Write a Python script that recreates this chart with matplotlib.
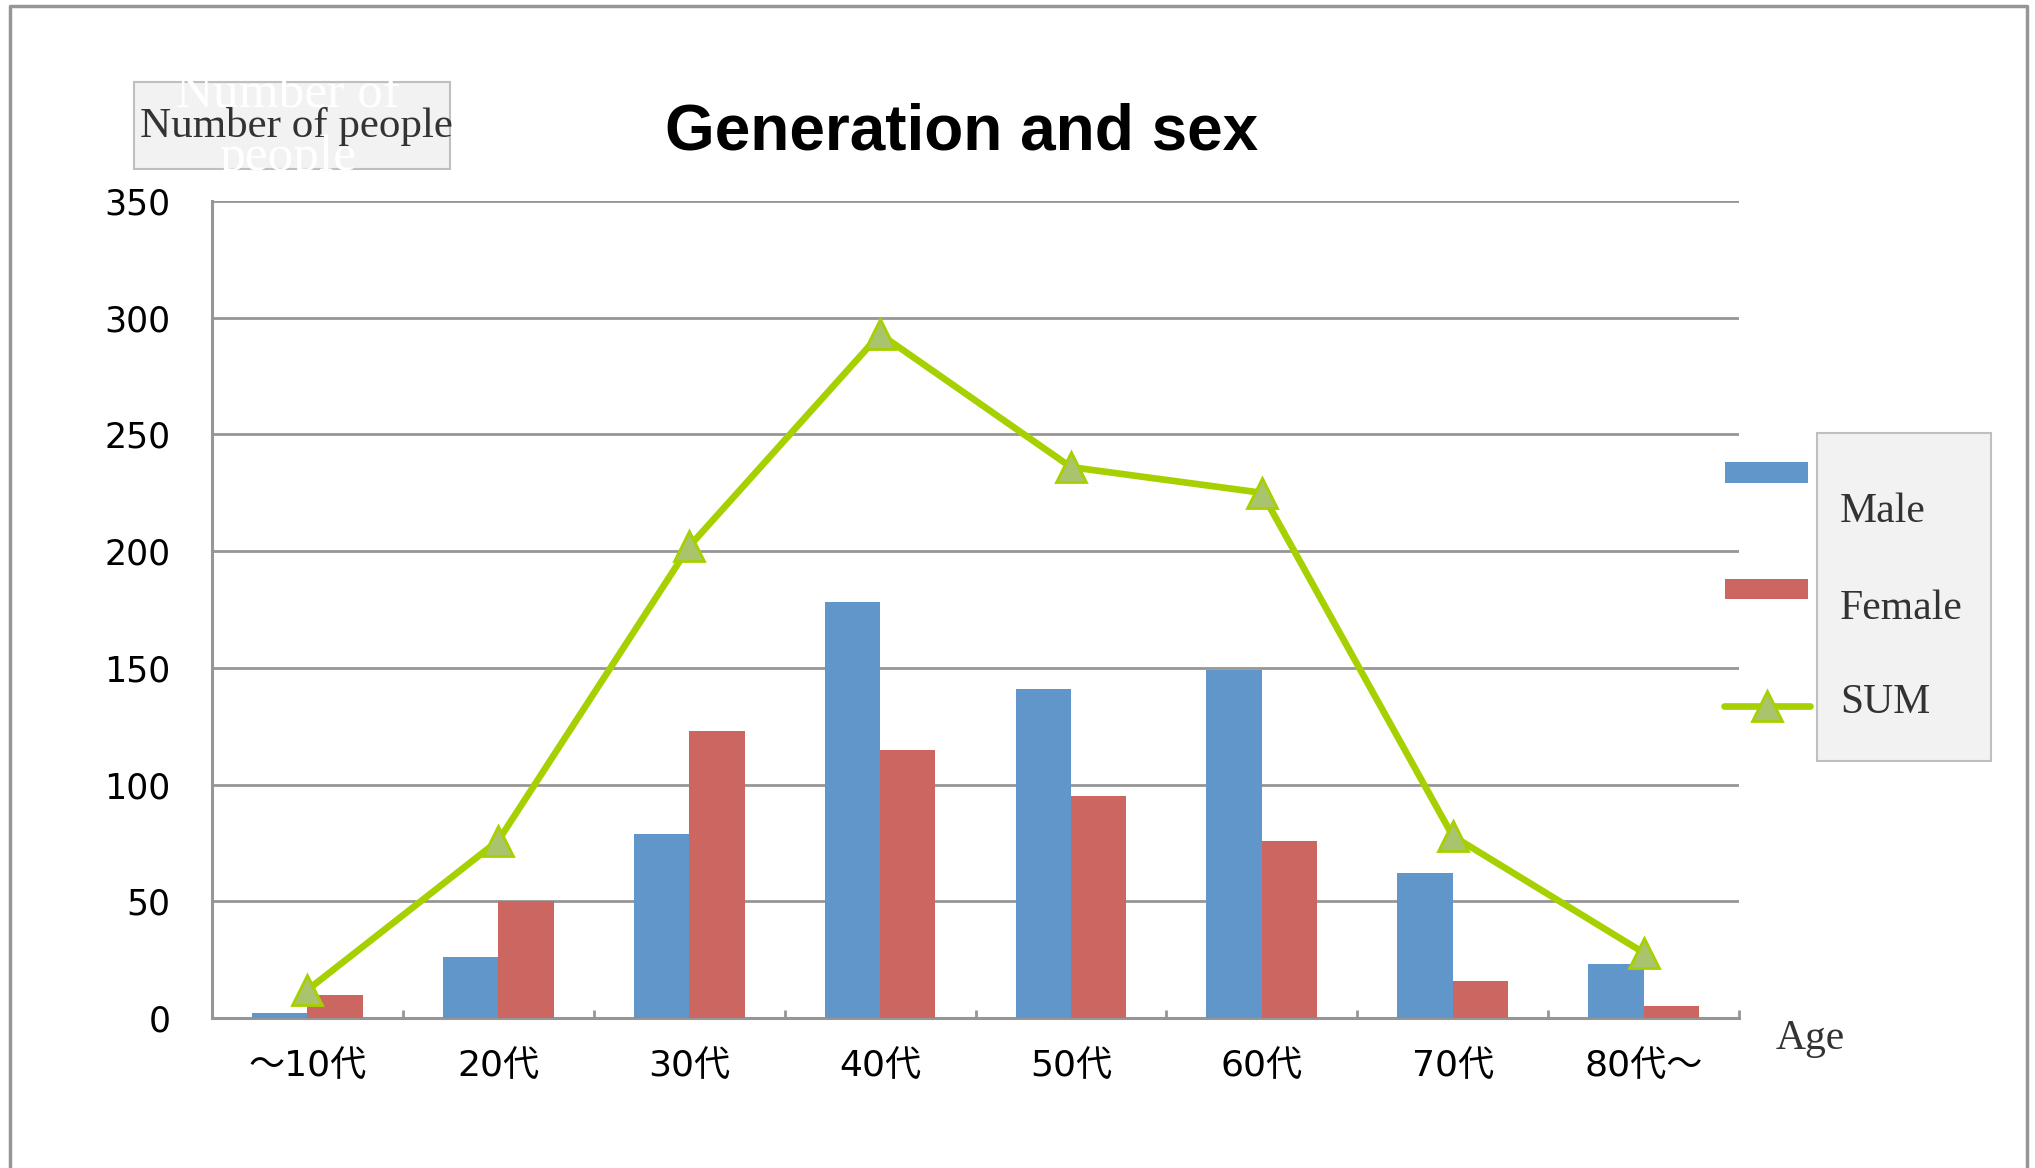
import matplotlib.pyplot as plt
import numpy as np
from matplotlib.patches import Rectangle
from matplotlib.lines import Line2D

# data
ages = ["～10代", "20代", "30代", "40代", "50代", "60代", "70代", "80代～"]
male = [2, 26, 79, 178, 141, 149, 62, 23]
female = [10, 50, 123, 115, 95, 76, 16, 5]
total = [12, 76, 202, 293, 236, 225, 78, 28]

W, H = 2035, 1168
blue = "#6096C9"
red = "#CC6660"
green = "#A6D000"
gray = "#969696"
tickfont = ["DejaVu Sans", "Noto Sans CJK JP"]

def fx(px):
    return px / W

def fy(py):
    return 1 - py / H

fig = plt.figure(figsize=(W / 100, H / 100), dpi=100)
ax = fig.add_axes([fx(212), fy(1018), fx(1739) - fx(212), fy(201) - fy(1018)])

x = np.arange(len(ages))
bw = 0.29
ax.bar(x - bw / 2, male, bw, color=blue, zorder=3)
ax.bar(x + bw / 2, female, bw, color=red, zorder=3)
ax.plot(x, total, color=green, lw=4.8, marker="^", ms=21,
        mfc="#A9C46C", mec=green, mew=2, zorder=4, clip_on=False)

ax.set_xlim(-0.5, 7.5)
ax.set_ylim(0, 350)
ax.set_yticks(range(0, 351, 50))
ax.grid(axis="y", color=gray, lw=2.0, zorder=1)
ax.set_xticks(x)
ax.set_xticklabels(ages, family=tickfont, fontsize=26)
ax.set_xticks(np.arange(-0.5, 8, 1), minor=True)
ax.tick_params(axis="x", which="major", length=0, pad=22)
ax.tick_params(axis="x", which="minor", direction="in", length=6, width=2, color=gray)
ax.tick_params(axis="y", length=0, pad=30, labelsize=25)
for t in ax.get_yticklabels():
    t.set_family(tickfont)

for s in ["top", "right"]:
    ax.spines[s].set_visible(False)
for s in ["left", "bottom"]:
    ax.spines[s].set_color(gray)
    ax.spines[s].set_linewidth(2.2)

# title
fig.text(fx(962), fy(132), "Generation and sex", ha="center", va="center",
         fontsize=46, fontweight="bold", family="Liberation Sans")

# y label box
fig.add_artist(Rectangle((fx(134), fy(169)), fx(450) - fx(134), fy(82) - fy(169),
                         transform=fig.transFigure, facecolor="#F2F2F2",
                         edgecolor="#BFBFBF", lw=1.5))
fig.text(fx(296), fy(127), "Number of people", ha="center", va="center",
         fontsize=31, family="Liberation Serif", color="#333333")
fig.text(fx(288), fy(95), "Number of", ha="center", va="center",
         fontsize=37, family="Liberation Serif", color="white")
fig.text(fx(288), fy(158), "people", ha="center", va="center",
         fontsize=37, family="Liberation Serif", color="white")

# x label
fig.text(fx(1776), fy(1039), "Age", ha="left", va="center",
         fontsize=30, family="Liberation Serif", color="#333333")

# legend
fig.add_artist(Rectangle((fx(1817), fy(761)), fx(1991) - fx(1817), fy(433) - fy(761),
                         transform=fig.transFigure, facecolor="#F2F2F2",
                         edgecolor="#BFBFBF", lw=1.5))
fig.add_artist(Rectangle((fx(1725), fy(483)), fx(1808) - fx(1725), fy(462) - fy(483),
                         transform=fig.transFigure, facecolor=blue, lw=0))
fig.add_artist(Rectangle((fx(1725), fy(599)), fx(1808) - fx(1725), fy(579) - fy(599),
                         transform=fig.transFigure, facecolor=red, lw=0))
fig.add_artist(Line2D([fx(1724), fx(1810)], [fy(706), fy(706)], transform=fig.transFigure,
                      color=green, lw=4.8, solid_capstyle="round"))
fig.add_artist(Line2D([fx(1767)], [fy(706)], transform=fig.transFigure, marker="^",
                      ms=21, mfc="#A9C46C", mec=green, mew=2))
for lab, py in [("Male", 512), ("Female", 609), ("SUM", 703)]:
    fig.text(fx(1840), fy(py), lab, ha="left", va="center", fontsize=30,
             family="Liberation Serif", color="#333333")

# outer frame (no bottom edge)
fig.add_artist(Line2D([fx(10), fx(10), fx(2027), fx(2027)], [0, fy(6), fy(6), 0],
                      transform=fig.transFigure, color=gray, lw=2.5))

fig.savefig("out.png", dpi=100)
